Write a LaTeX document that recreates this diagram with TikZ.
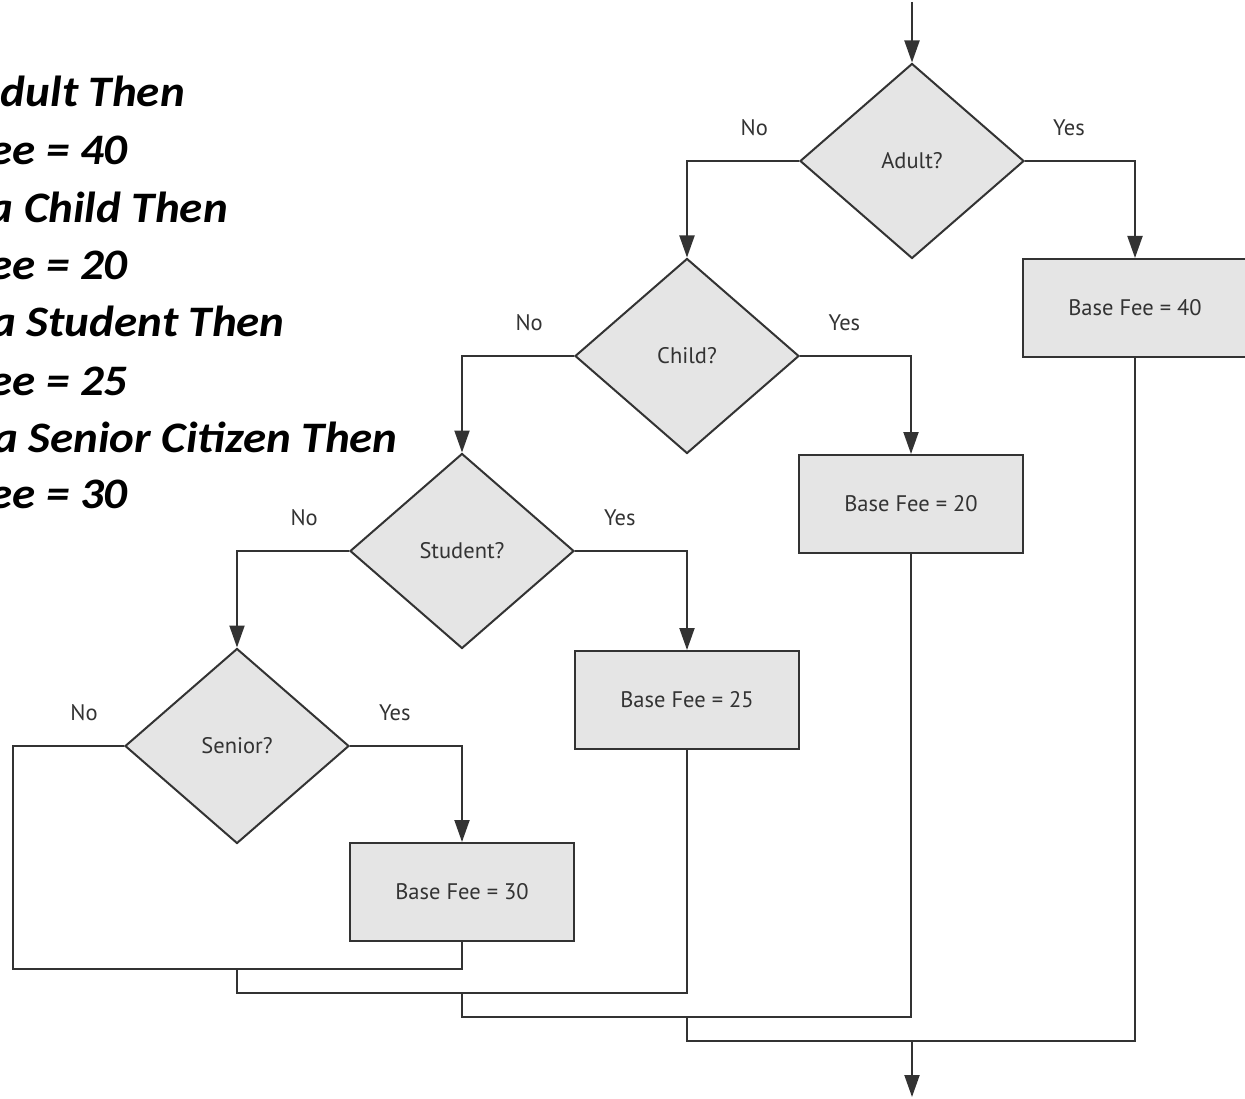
\documentclass[tikz,border=0pt]{standalone}
\usepackage{fontspec}
\setmainfont{PT Sans}
\newfontfamily\codefont[FakeStretch=1.08]{Carlito}
\usetikzlibrary{arrows.meta,shapes.geometric,positioning}
\definecolor{boxgray}{gray}{0.9}
\definecolor{linegray}{gray}{0.2}

\begin{document}
\begin{tikzpicture}[x=1pt, y=-1pt,
  every node/.style={font=\fontsize{22.5}{27}\selectfont, text=linegray},
  decision/.style={diamond, draw=linegray, fill=boxgray, line width=2pt, minimum width=224pt, minimum height=195pt, inner sep=0pt},
  feebox/.style={draw=linegray, fill=boxgray, line width=2pt, minimum width=224pt, minimum height=98pt},
  flow/.style={draw=linegray, line width=2pt, -{Triangle[length=22pt,width=15pt]}},
  mergeline/.style={draw=linegray, line width=2pt},
  lbl/.style={above=24pt, inner sep=0pt},
  code/.style={font=\codefont\bfseries\itshape\fontsize{43.5}{50}\selectfont, text=black, anchor=base east, inner sep=0pt}]

\useasboundingbox (0,0) rectangle (1245,1099);
\clip (0,0) rectangle (1245,1099);

% Pseudocodice
\node[code] (l1) at (185,107) {dult Then};
\node[code] (l2) at (128,165) {ee = 40};
\node[code] (l3) at (228,223) {a Child Then};
\node[code] (l4) at (128,280) {ee = 20};
\node[code] (l5) at (285,337) {a Student Then};
\node[code] (l6) at (128,395) {ee = 25};
\node[code] (l7) at (398,452) {a Senior Citizen Then};
\node[code] (l8) at (128,508) {ee = 30};

% Decisioni
\node[decision] (adult)   at (912,161) {Adult?};
\node[decision] (child)   at (687,356) {Child?};
\node[decision] (student) at (462,551) {Student?};
\node[decision] (senior)  at (237,746) {Senior?};

% Tariffe
\node[feebox] (fee40) at (1135,308) {Base Fee = 40};
\node[feebox] (fee20) at (911,504)  {Base Fee = 20};
\node[feebox] (fee25) at (687,700)  {Base Fee = 25};
\node[feebox] (fee30) at (462,892)  {Base Fee = 30};

\coordinate (in)  at (912,2);
\coordinate (j1)  at (13,969);
\coordinate (j2)  at (237,993);
\coordinate (j3)  at (462,1017);
\coordinate (j4)  at (687,1041);
\coordinate (out) at (912,1097);

% Rami
\draw[flow] (in) -- (adult.north);
\draw[flow] (adult.west) -| node[lbl, pos=0.2] {No} (child.north);
\draw[flow] (adult.east) -| node[lbl, pos=0.2] {Yes} (fee40.north);
\draw[flow] (child.west) -| node[lbl, pos=0.2] {No} (student.north);
\draw[flow] (child.east) -| node[lbl, pos=0.2] {Yes} (fee20.north);
\draw[flow] (student.west) -| node[lbl, pos=0.2] {No} (senior.north);
\draw[flow] (student.east) -| node[lbl, pos=0.2] {Yes} (fee25.north);
\draw[flow] (senior.east) -| node[lbl, pos=0.2] {Yes} (fee30.north);
\draw[mergeline] (senior.west) -| node[lbl, pos=0.18] {No} (j1) -| (fee30.south);

% Ricongiungimento
\draw[mergeline] (senior.south |- j1) -- (j2) -| (fee25.south);
\draw[mergeline] (student.south |- j2) -- (j3) -| (fee20.south);
\draw[mergeline] (child.south |- j3) -- (j4) -| (fee40.south);
\draw[flow] (adult.south |- j4) -- (out);

\end{tikzpicture}
\end{document}
